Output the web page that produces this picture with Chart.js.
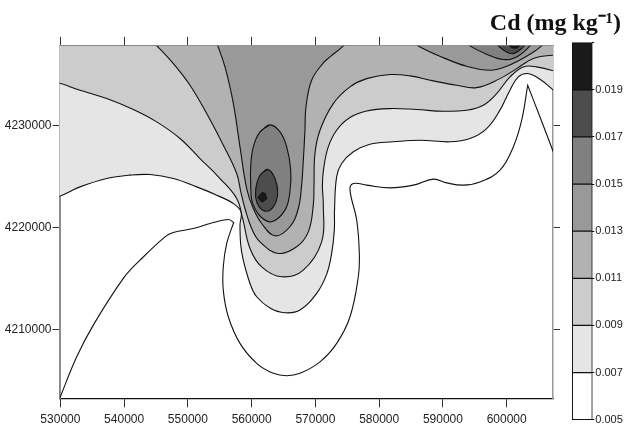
<!DOCTYPE html>
<html><head><meta charset="utf-8">
<style>html,body{margin:0;padding:0;background:#fff}
#wrap{position:relative;width:625px;height:434px;overflow:hidden}
canvas{position:absolute;display:block}
#main{left:0;top:0}#bar{left:560px;top:30px}</style>
<script src="https://cdn.jsdelivr.net/npm/chart.js@4/dist/chart.umd.min.js"></script>
</head><body><div id="wrap"><canvas id="main" width="625" height="434"></canvas><canvas id="bar" width="65" height="404"></canvas></div>
<script>
// Axis ticks (metres)
const xTicks=[530000,540000,550000,560000,570000,580000,590000,600000];
const yTicks=[4210000,4220000,4230000];
// Colour bar
const levels=[0.005,0.007,0.009,0.011,0.013,0.015,0.017,0.019,0.021];
const bands=['#ffffff','#e5e5e5','#cccccc','#b2b2b2','#999999','#808080','#4d4d4d','#1a1a1a'];
// Contours, [easting km, northing km]
const c005=[[529.8,4203.1],[532.56,4207.31],[535.16,4210.42],[539.87,4215],[542.49,4216.79],[546.41,4219.08],[547.71,4219.51],[550.85,4219.9],[553.47,4220.39],[556.34,4220.78],[557.18,4220.49],[557.18,4220.49],[556.09,4218.43],[555.55,4216.14],[555.55,4213.85],[556.34,4211.24],[558.17,4208.63],[560.79,4206.67],[563.4,4205.69],[565.5,4205.45],[567.58,4205.69],[570.72,4206.82],[573.34,4208.63],[575.43,4211.24],[576.73,4215.16],[576.89,4217.45],[576.48,4220.72],[575.43,4223.66],[575.95,4224.31],[578.05,4224.15],[581.7,4223.88],[585.36,4224.15],[588.49,4224.74],[590.59,4224.37],[593.2,4224.15],[595.82,4224.47],[598.96,4225.62],[601.04,4227.9],[602.36,4230.52],[603.3,4233.95],[603.3,4233.95],[605.23,4230.84],[607.22,4227.58],[607.6,4227]];
const c007=[[522,4222.5],[529,4222.9],[533.07,4223.98],[537.26,4224.8],[540.92,4225.13],[544.06,4225.19],[547.72,4224.8],[551.38,4223.98],[554.52,4223.17],[557.13,4222.35],[558.33,4221.53],[558.17,4220.23],[558.43,4217.61],[559.74,4214.5],[560.79,4213.2],[562.88,4212.1],[565.23,4211.63],[567.58,4211.9],[570.19,4213.53],[571.76,4215.4],[572.55,4217.45],[572.97,4219.74],[573,4221.7],[573.33,4224.96],[574.12,4226.27],[575.95,4227.42],[578.56,4228.17],[582.22,4228.4],[586.4,4228.56],[591.11,4228.4],[594.25,4228.72],[596.86,4229.7],[598.95,4231.51],[600.52,4233.47],[601.83,4234.77],[603.29,4235.1],[605.23,4234.54],[607.32,4233.47],[608.5,4232.7],[615,4245],[522,4245]];
const c009=[[522,4234.5],[528.8,4234.3],[533.07,4233.46],[537.26,4232.64],[541.44,4231.57],[545.1,4230.36],[548.76,4228.73],[551.9,4226.76],[555.04,4224.8],[557.65,4222.84],[558.59,4220.88],[559.74,4217.94],[561.57,4216.14],[564.71,4215.16],[568.1,4215.82],[570.98,4218.59],[571.24,4222.19],[571.1,4224.15],[571.3,4225.8],[572.02,4227.9],[573.33,4229.54],[575.42,4230.78],[578.04,4231.43],[581.7,4231.66],[585.88,4231.57],[590.06,4231.4],[593.73,4231.5],[596.34,4231.99],[598.43,4233.13],[600.52,4234.77],[602.61,4235.75],[604.71,4235.75],[607.32,4235.36],[608.5,4235],[615,4245],[522,4245]];
const c011=[[544.4,4238.3],[547.72,4236.07],[550.33,4233.95],[552.95,4231.17],[555.56,4228.07],[557.65,4225.29],[558.3,4223.5],[558.95,4221.86],[560,4219.9],[561.31,4218.59],[564.18,4217.45],[567.06,4218.1],[568.89,4219.57],[569.67,4222.19],[569.78,4224.15],[569.93,4227.25],[570.72,4229.54],[572.81,4232.15],[575.42,4233.79],[578.04,4234.6],[581.7,4235],[584.84,4234.87],[588.5,4234.38],[592.16,4233.95],[595.29,4233.72],[598.95,4234.6],[601.57,4235.58],[604.18,4236.57],[607.22,4236.89],[608.5,4236.8],[615,4245],[540,4245]];
const c013a=[[554.4,4238.3],[555.82,4235.75],[557.13,4232.15],[558.17,4227.91],[559.22,4223.82],[560.26,4221.86],[561.57,4220.39],[563.66,4219.18],[566,4220.07],[567.32,4221.86],[567.84,4224.15],[568.1,4226.5],[568.36,4229.54],[568.52,4231.83],[569.41,4234.44],[571.24,4236.14],[572.29,4236.73],[574.38,4237.81],[575,4238.4],[578,4245],[552,4245]];
const c013b=[[585.4,4238.3],[586.14,4237.81],[590.06,4236.66],[593.73,4235.81],[597.39,4235.42],[600,4235.81],[603.66,4236.99],[605.49,4237.81],[606,4238.3],[608,4245],[583,4245]];
const c015a=[[593.6,4238.3],[594.25,4237.81],[596.86,4237],[599.48,4236.47],[601.57,4236.73],[603.66,4237.81],[604.2,4238.3],[606,4245],[592,4245]];
const c015b=[[562.88,4230.06],[561.31,4229.37],[560.26,4227.9],[559.85,4225.94],[559.85,4224.31],[560,4222.7],[560.52,4221.86],[561.5,4221],[563.14,4220.56],[565.23,4221.7],[566,4223.5],[566.13,4225.62],[565.5,4227.9],[564.45,4229.37],[562.88,4230.06],[561.31,4229.37]];
const c017a=[[598.2,4238.3],[598.69,4237.81],[600,4237.22],[601.05,4237.05],[602.35,4237.55],[602.72,4237.81],[603.2,4238.3],[605,4245],[596,4245]];
const c017b=[[562.51,4225.7],[561.31,4225.13],[560.63,4223.66],[560.89,4222.35],[562.09,4221.6],[563.4,4222.02],[564.08,4223.33],[563.66,4224.8],[562.51,4225.7],[561.31,4225.13]];
const c019a=[[600.2,4238.3],[600.52,4237.81],[601.31,4237.58],[601.93,4237.81],[602.2,4238.3],[604,4245],[598,4245]];
const c019b=[[561.67,4223.43],[561.04,4222.94],[561.67,4222.51],[562.36,4222.84],[562.09,4223.33],[561.67,4223.43]];

const xRange=[529.86,607.27], yRange=[4203.24,4237.82];
const km=a=>a.map(([x,y])=>({x:x*1000,y:y*1000}));
const mk=(pts,color,tension)=>({data:km(pts),showLine:true,pointRadius:0,borderColor:'#111',borderWidth:1.1,
  tension:tension===undefined?0.4:tension,fill:color?'shape':false,backgroundColor:color||'transparent',xAxisID:'x',yAxisID:'y'});
const setTicks=list=>s=>{s.ticks=list.map(v=>({value:v}));};
const labelFont={family:'"Liberation Sans",sans-serif',size:12};
const tickColor='#333';

new Chart(document.getElementById('main'),{type:'scatter',
 data:{datasets:[
  mk(c019b,bands[7],0.1),mk(c019a,bands[7]),mk(c017b,bands[6]),mk(c017a,bands[6]),mk(c015b,bands[5]),mk(c015a,bands[5]),
  mk(c013b,bands[4]),mk(c013a,bands[4]),mk(c011,bands[3]),mk(c009,bands[2]),mk(c007,bands[1]),mk(c005,null)]},
 options:{responsive:false,animation:false,events:[],
  layout:{autoPadding:false,padding:{right:4}},
  plugins:{legend:{display:false},tooltip:{enabled:false},
   title:{display:true,text:'Cd (mg kg⁻¹)',align:'end',color:'#111',padding:{top:11.7,bottom:0.8},
    font:{family:'"Liberation Serif",serif',weight:'bold',size:24,lineHeight:1}}},
  scales:{
   x:{type:'linear',position:'bottom',min:xRange[0]*1000,max:xRange[1]*1000,afterBuildTicks:setTicks(xTicks),afterFit:s=>{s.height=35.7;},
    border:{color:'#111',width:1.2},grid:{drawOnChartArea:false,tickLength:9,color:tickColor,tickColor},
    ticks:{autoSkip:false,maxRotation:0,padding:5,color:'#222',font:labelFont,callback:v=>String(v)}},
   x2:{type:'linear',position:'top',min:xRange[0]*1000,max:xRange[1]*1000,afterBuildTicks:setTicks(xTicks),afterFit:s=>{s.height=9.3;},
    border:{color:'#444',width:1},grid:{drawOnChartArea:false,tickLength:9,color:tickColor,tickColor},ticks:{display:false}},
   y:{type:'linear',position:'left',min:yRange[0]*1000,max:yRange[1]*1000,afterBuildTicks:setTicks(yTicks),afterFit:s=>{s.width=59.5;},
    border:{color:'#8c8c8c',width:2},grid:{drawOnChartArea:false,tickLength:7,color:tickColor,tickColor},
    ticks:{autoSkip:false,padding:1,color:'#222',font:labelFont,callback:v=>String(v)}},
   y2:{type:'linear',position:'right',min:yRange[0]*1000,max:yRange[1]*1000,afterBuildTicks:setTicks(yTicks),afterFit:s=>{s.width=68;},
    border:{color:'#999',width:1.5},grid:{drawOnChartArea:false,tickLength:7,color:tickColor,tickColor},ticks:{display:false}}
  }}});

new Chart(document.getElementById('bar'),{type:'bar',
 data:{labels:['Cd'],datasets:bands.map((c,i)=>({data:[[levels[i],levels[i+1]]],backgroundColor:c,borderColor:'#111',borderWidth:1,borderSkipped:false,clip:false,barPercentage:1,categoryPercentage:1,grouped:false}))},
 options:{responsive:false,animation:false,events:[],
  layout:{autoPadding:false,padding:{left:12.3,top:12.7,bottom:14.3}},
  plugins:{legend:{display:false},tooltip:{enabled:false}},
  scales:{x:{display:false,stacked:false},
   y:{position:'right',min:levels[0],max:levels[levels.length-1],afterBuildTicks:setTicks(levels),afterFit:s=>{s.width=32.7;},
    border:{display:false},grid:{drawOnChartArea:false,tickLength:2,color:'#111',tickColor:'#111'},
    ticks:{autoSkip:false,padding:1,color:'#222',font:{family:labelFont.family,size:11},callback:v=>v>=levels[levels.length-1]?'':v.toFixed(3)}}}}});
</script></body></html>
